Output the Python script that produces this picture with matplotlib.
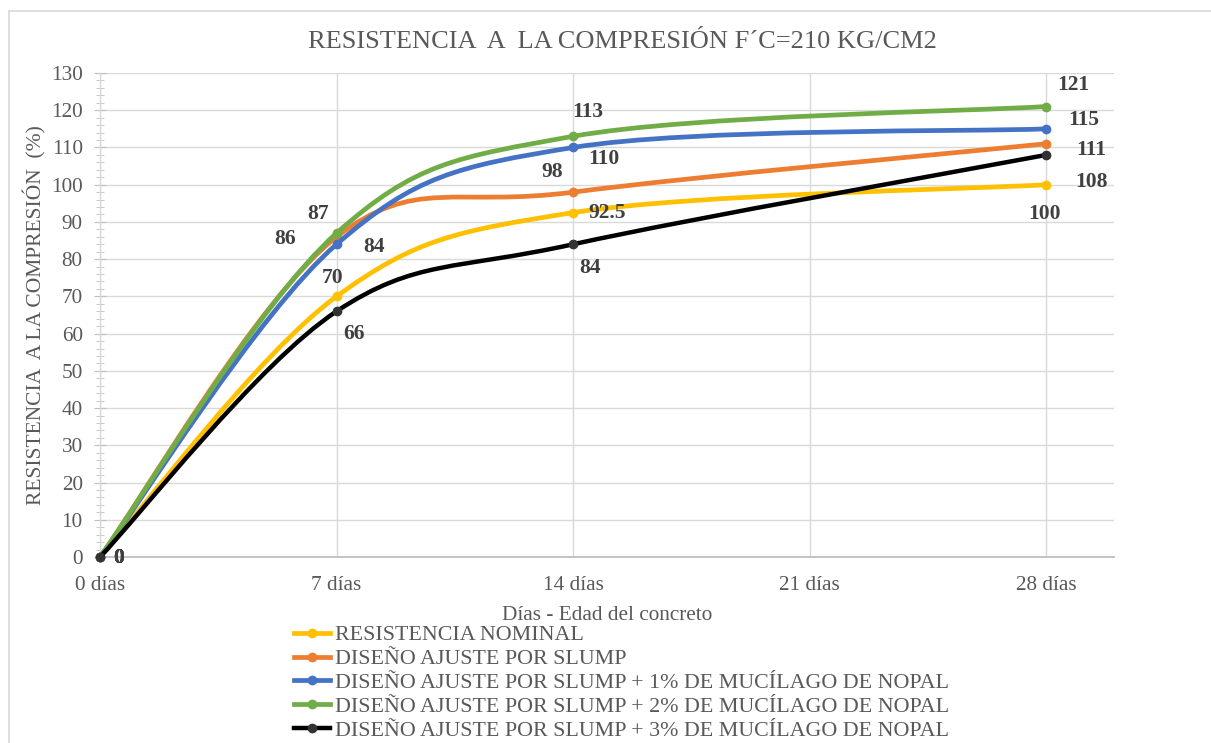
import matplotlib
matplotlib.use("Agg")
import matplotlib.pyplot as plt
from matplotlib.path import Path
from matplotlib.patches import PathPatch
from matplotlib.lines import Line2D
import numpy as np

# ---------------- data ----------------
days = [0, 7, 14, 28]
tick_days = [0, 7, 14, 21, 28]
tick_labels = ["0 días", "7 días", "14 días", "21 días", "28 días"]

series_names = [
    "RESISTENCIA NOMINAL",
    "DISEÑO AJUSTE POR SLUMP",
    "DISEÑO AJUSTE POR SLUMP + 1% DE MUCÍLAGO DE NOPAL",
    "DISEÑO AJUSTE POR SLUMP + 2% DE MUCÍLAGO DE NOPAL",
    "DISEÑO AJUSTE POR SLUMP + 3% DE MUCÍLAGO DE NOPAL",
]
nominal = [0, 70, 92.5, 100]
slump = [0, 86, 98, 111]
nopal1 = [0, 84, 110, 115]
nopal2 = [0, 87, 113, 121]
nopal3 = [0, 66, 84, 108]

label_nominal = ["0", "70", "92.5", "100"]
label_slump = ["0", "86", "98", "111"]
label_nopal1 = ["0", "84", "110", "115"]
label_nopal2 = ["0", "87", "113", "121"]
label_nopal3 = ["0", "66", "84", "108"]

# ---------------- style ----------------
colors = ["#FFC000", "#ED7D31", "#4472C4", "#70AD47", "#000000"]
marker_colors = ["#FFC000", "#ED7D31", "#4472C4", "#70AD47", "#333333"]
# label offsets in pixels (dx, dy up)
offsets = [
    [(19, -1), (-4, 18), (34, 0), (-2, -29)],
    [(19, -1), (-52, -2), (-21, 20), (45, -6)],
    [(19, -1), (37, -3), (31, -12), (37, 9)],
    [(19, -1), (-19, 19), (15, 24), (27, 22)],
    [(19, -1), (17, -23), (17, -24), (45, -27)],
]

FONT = "Liberation Serif"
plt.rcParams["font.family"] = [FONT, "DejaVu Serif"]

W, H = 1211, 743
fig = plt.figure(figsize=(W / 100, H / 100), dpi=100)

# chart border (top & left visible)
fig.add_artist(Line2D([9 / W, 1.0], [1 - 11 / H, 1 - 11 / H], color="#D9D9D9", lw=1.2))
fig.add_artist(Line2D([9 / W, 9 / W], [0, 1 - 11 / H], color="#D9D9D9", lw=1.2))

left, right, top, bottom = 100, 1114, 73, 557
ax = fig.add_axes([left / W, 1 - bottom / H, (right - left) / W, (bottom - top) / H])
ax.set_xlim(0, 30)
ax.set_ylim(0, 130)

for sp in ["top", "right"]:
    ax.spines[sp].set_visible(False)
ax.spines["left"].set_color("#D9D9D9")
ax.spines["left"].set_linewidth(1.0)
ax.spines["bottom"].set_color("#BFBFBF")
ax.spines["bottom"].set_linewidth(1.3)

ax.set_yticks(np.arange(0, 131, 10))
ax.set_yticks(np.arange(0, 131, 2), minor=True)
ax.set_xticks(tick_days)
ax.set_xticklabels(tick_labels)
ax.tick_params(axis="x", length=0, pad=14, labelsize=15.3, labelcolor="#595959")
ax.tick_params(axis="y", which="major", direction="inout", length=9, color="#BFBFBF",
               labelsize=15.3, labelcolor="#595959", pad=8)
ax.tick_params(axis="y", which="minor", direction="inout", length=6, color="#BFBFBF")
ax.grid(True, which="major", color="#D9D9D9", lw=1.0)
ax.set_axisbelow(True)


def smooth_path(xs, ys):
    pts = np.column_stack([xs, ys]).astype(float)
    n = len(pts)
    verts = [pts[0]]
    codes = [Path.MOVETO]
    for i in range(n - 1):
        p0 = pts[i - 1] if i > 0 else pts[i]
        p1 = pts[i]
        p2 = pts[i + 1]
        p3 = pts[i + 2] if i + 2 < n else pts[i + 1]
        c1 = p1 + (p2 - p0) / 6.0
        c2 = p2 - (p3 - p1) / 6.0
        verts += [c1, c2, p2]
        codes += [Path.CURVE4] * 3
    return Path(verts, codes)


all_series = [nominal, slump, nopal1, nopal2, nopal3]
all_labels = [label_nominal, label_slump, label_nopal1, label_nopal2, label_nopal3]
handles = []
for k, (vals, lab) in enumerate(zip(all_series, all_labels)):
    lw = 3.4 if k < 4 else 3.2
    patch = PathPatch(smooth_path(days, vals), facecolor="none", edgecolor=colors[k],
                      lw=lw, capstyle="round", joinstyle="round", zorder=3 + k)
    ax.add_patch(patch)
    ax.plot(days, vals, ls="none", marker="o", ms=6, color=marker_colors[k],
            mec=marker_colors[k], zorder=3.5 + k, clip_on=False)
    for j, (x, y) in enumerate(zip(days, vals)):
        ax.annotate(lab[j], (x, y), xytext=offsets[k][j], textcoords="offset pixels",
                    ha="center", va="center", fontsize=15.5, fontweight="bold",
                    color="#404040", zorder=20)
    handles.append(Line2D([], [], color=colors[k], lw=lw, marker="o", ms=6,
                          mfc=marker_colors[k], mec=marker_colors[k]))

fig.text(622 / W, 1 - 42 / H, "RESISTENCIA  A  LA COMPRESIÓN F´C=210 KG/CM2",
         ha="center", va="center", fontsize=19, color="#595959")
fig.text(607 / W, 1 - 615 / H, "Días - Edad del concreto", ha="center", va="center",
         fontsize=15.3, color="#595959")
fig.text(35 / W, 1 - 315 / H, "RESISTENCIA  A LA COMPRESIÓN  (%)", ha="center",
         va="center", rotation=90, fontsize=15.5, color="#595959")

leg = fig.legend(handles, series_names, loc="upper left",
                 bbox_to_anchor=(294 / W, 1 - 625 / H), frameon=False,
                 fontsize=15.8, handlelength=1.65, handletextpad=0.2,
                 labelspacing=0.16, borderpad=0, borderaxespad=0)
for t in leg.get_texts():
    t.set_color("#595959")

fig.savefig("out.png", dpi=100)
